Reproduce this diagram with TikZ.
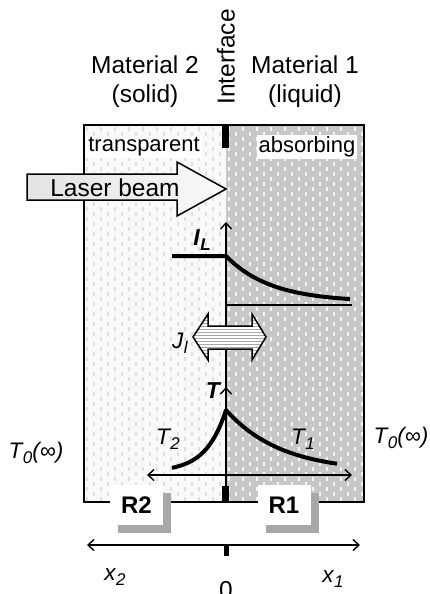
\documentclass[tikz,border=0pt]{standalone}
\usepackage{fontspec}
\setmainfont{Liberation Sans}
\usetikzlibrary{arrows.meta,patterns,shadows}
\definecolor{solidfill}{gray}{0.975}
\definecolor{liqfill}{gray}{0.78}
\definecolor{shade}{gray}{0.66}
\newcommand{\lab}[2]{\textit{#1}\kern0.5pt\raisebox{-0.45ex}{\fontsize{17}{17}\selectfont\textit{#2}}}

\begin{document}
\begin{tikzpicture}[x=1pt,y=-1pt,
  lbl/.style={font=\fontsize{24.5}{29}\selectfont,inner sep=0pt},
  mlbl/.style={font=\fontsize{22.5}{26}\selectfont\itshape,inner sep=0pt},
  blbl/.style={mlbl,font=\fontsize{23}{26}\selectfont\bfseries\itshape},
  tag/.style={fill=white,inner sep=2pt,font=\fontsize{22}{24}\selectfont},
  dsol/.style={draw=gray!25,line width=1.2pt},
  dliq/.style={draw=gray!8,line width=1.2pt},
  ax/.style={line width=1.4pt,-{Straight Barb[length=6pt,width=11pt]}},
  axx/.style={line width=1.4pt,{Straight Barb[length=6pt,width=11pt]}-{Straight Barb[length=6pt,width=11pt]}},
  curve/.style={line width=4pt,line join=round},
  rbox/.style={fill=white,minimum width=53pt,minimum height=40pt,font=\fontsize{24}{26}\selectfont\bfseries,
    drop shadow={shadow xshift=8pt,shadow yshift=-8pt,fill=shade,opacity=1}}
]
\useasboundingbox (0,0) rectangle (430,594);

% the two materials
\fill[solidfill] (84,125) rectangle (226,502);
\fill[liqfill] (226,125) rectangle (364,502);
\begin{scope}
  \clip (84,125) rectangle (226,502);
  \foreach \i in {0,...,20} \foreach \j in {0,...,38}
    \draw[dsol] ({87+7*\i},{127+10*\j+5*mod(\i,2)}) -- ++(0,4);
\end{scope}
\begin{scope}
  \clip (226,125) rectangle (364,502);
  \foreach \i in {0,...,20} \foreach \j in {0,...,38}
    \draw[dliq] ({229+7*\i},{127+10*\j+5*mod(\i,2)}) -- ++(0,4);
\end{scope}
\draw[line width=2pt] (84,125) rectangle (364,502);
\fill (222,125) rectangle (229,148);
\fill (222,486) rectangle (229,502);

% titles
\node[lbl,align=center] (mat2) at (145,82) {Material 2\\(solid)};
\node[lbl,align=center] (mat1) at (305,82) {Material 1\\(liquid)};
\node[lbl,rotate=90] (intf) at (226,57) {Interface};
\node[tag] (transp) at (144,147) {transparent};
\node[tag] (absorb) at (307,147) {absorbing};

% laser beam
\coordinate (tip) at (226,189);
\shadedraw[left color=gray!22,middle color=gray!68,right color=gray!4,line width=1.5pt]
  (27,174) -- (177,174) -- (177,162) -- (tip) -- (177,216) -- (177,200) -- (27,200) -- cycle;
\node[lbl] (laser) at (115,188) {Laser beam};

% intensity
\coordinate (ilo) at (226,305);
\coordinate (ilt) at (226,222);
\coordinate (ile) at (352,305);
\coordinate (tlo) at (226,475);
\draw[line width=1.5pt] (ilo) -- (226,488);
\draw[ax] (ilo) -- (ilt);
\draw[line width=1.5pt] (ilo) -- (ile);
\draw[curve] (172,256) -- (226,256) -- plot[domain=226:350,samples=30] (\x,{302-46*exp(-(\x-226)/45)});
\node[blbl] (il) at (202,240) {\lab{I}{L}};

% flux
\draw[line width=1.5pt,preaction={fill=white},pattern=horizontal lines,pattern color=gray!70]
  (193,337) -- (208,314) -- (208,326) -- (252,326) -- (252,314) -- (266,337)
  -- (252,360) -- (252,349) -- (208,349) -- (208,360) -- cycle;
\node[mlbl] (jl) at (180,343) {\lab{J}{l}};

% temperature
\coordinate (tlt) at (226,387);
\coordinate (tll) at (147,475);
\coordinate (tlr) at (352,475);
\draw[ax] (tlo) -- (tlt);
\draw[axx] (tll) -- (tlr);
\draw[curve] plot[domain=172:226,samples=30] (\x,{472-62*exp(-(226-\x)/20)})
  -- plot[domain=226:337,samples=40] (\x,{472-62*exp(-(\x-226)/55)});
\node[blbl] (tax) at (213,391) {T};
\node[mlbl] (t2) at (168,439) {\lab{T}{2}};
\node[mlbl] (t1) at (303,439) {\lab{T}{1}};
\node[mlbl] (t0l) at (36,453) {\lab{T}{0}\textit{(∞)}};
\node[mlbl] (t0r) at (401,438) {\lab{T}{0}\textit{(∞)}};

% regions
\node[rbox] (r2) at (136.5,505) {R2};
\node[rbox] (r1) at (284,505) {R1};

% x axis
\coordinate (xl) at (87,545);
\coordinate (xr) at (360,545);
\draw[axx] (xl) -- (xr);
\draw[line width=5pt] (226,545) -- (226,556);
\node[mlbl] (x2) at (115,577) {\lab{x}{2}};
\node[mlbl] (x1) at (333,579) {\lab{x}{1}};
\node[lbl] (zero) at (226,590) {0};
\end{tikzpicture}
\end{document}
